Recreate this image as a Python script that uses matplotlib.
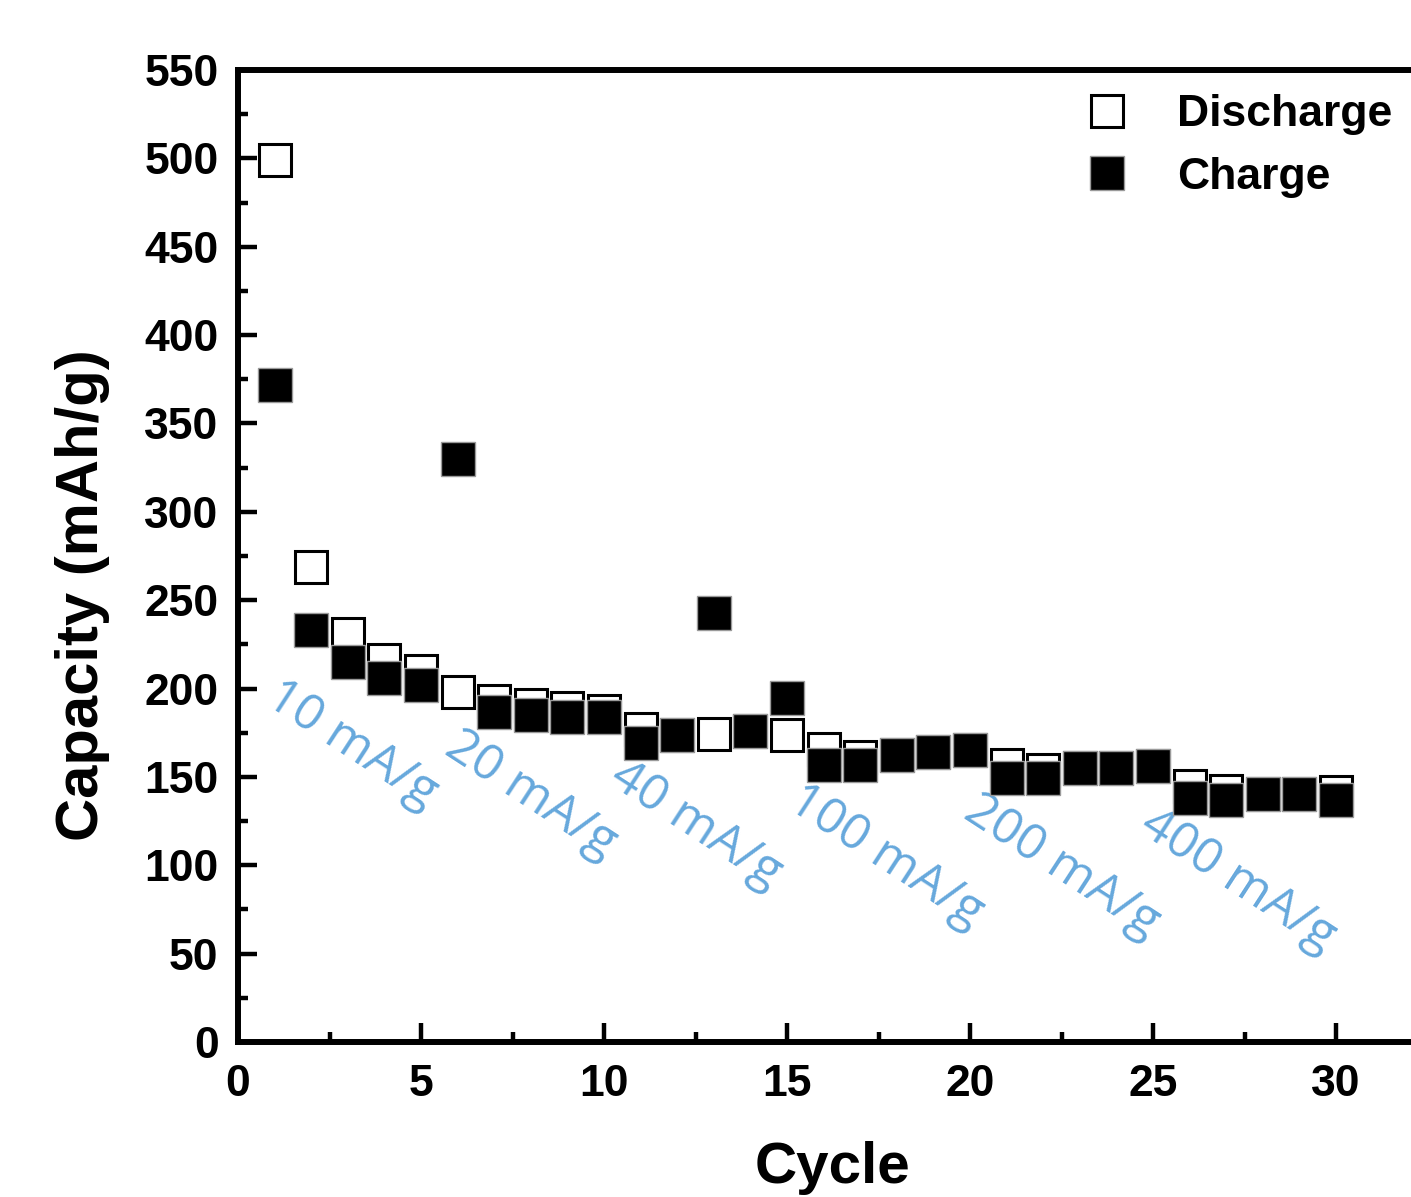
import numpy as np
import matplotlib.pyplot as plt
from matplotlib.ticker import MultipleLocator

cycles = np.arange(1, 31)
discharge = [499, 269, 231, 216, 210, 198, 193, 190.5, 189, 187.5,
             177, 173.5, 174, 176, 173.5, 166, 161.5, 162.5, 164, 165.5,
             156.5, 154, 155, 155, 156, 145, 142, 140.5, 140.5, 141.5]
charge = [372, 233, 215, 206, 202, 330, 187, 185, 184, 184,
          169, 173.5, 243, 176, 194.5, 156.5, 157, 162.5, 164, 165.5,
          149.5, 149.5, 155, 155, 156, 138, 137, 140.5, 140.5, 137]

rate_labels = ["10 mA/g", "20 mA/g", "40 mA/g", "100 mA/g", "200 mA/g", "400 mA/g"]
rate_x = [3.1, 8.0, 12.5, 17.7, 22.5, 27.3]
rate_y = [168, 140, 123, 105, 99, 91]

plt.rcParams["font.family"] = ["Liberation Sans", "DejaVu Sans"]

fig = plt.figure(figsize=(14.11, 11.97), dpi=100)
ax = fig.add_axes([0.1687, 0.1295, 0.8430, 0.8120])

ax.plot(cycles, discharge, "s", ms=23, mfc="white", mec="black", mew=2.2,
        linestyle="none", label="Discharge", zorder=3)
ax.plot(cycles, charge, "s", ms=24, mfc="black", mec="#9a9a9a", mew=1.0,
        linestyle="none", label="Charge", zorder=4)

for lab, x, y in zip(rate_labels, rate_x, rate_y):
    ax.text(x, y, lab, rotation=-33, ha="center", va="center",
            fontsize=36, color="#66a8dc", family=["Open Sans", "DejaVu Sans"])

ax.set_xlim(0, 32.5)
ax.set_ylim(0, 550)
ax.xaxis.set_major_locator(MultipleLocator(5))
ax.xaxis.set_minor_locator(MultipleLocator(2.5))
ax.yaxis.set_major_locator(MultipleLocator(50))
ax.yaxis.set_minor_locator(MultipleLocator(25))

for s in ax.spines.values():
    s.set_linewidth(4.3)
ax.tick_params(which="major", direction="in", length=14, width=3.2,
               labelsize=32, pad=14)
ax.tick_params(which="minor", direction="in", length=7, width=3.2)
ax.tick_params(axis="x", which="major", pad=16)
for t in ax.get_xticklabels() + ax.get_yticklabels():
    t.set_fontweight("bold")

ax.set_xlabel("Cycle", fontsize=42, fontweight="bold")
ax.set_ylabel("Capacity (mAh/g)", fontsize=43, fontweight="bold")
ax.xaxis.set_label_coords(0.5, -0.102)
ax.yaxis.set_label_coords(-0.108, 0.46)

leg = ax.legend(loc="upper left", bbox_to_anchor=(0.712, 0.975), frameon=False,
                prop={"weight": "bold", "size": 32},
                handlelength=1.0, handletextpad=1.07, labelspacing=0.48,
                borderaxespad=0, borderpad=0)

fig.savefig("out.png", dpi=100)
